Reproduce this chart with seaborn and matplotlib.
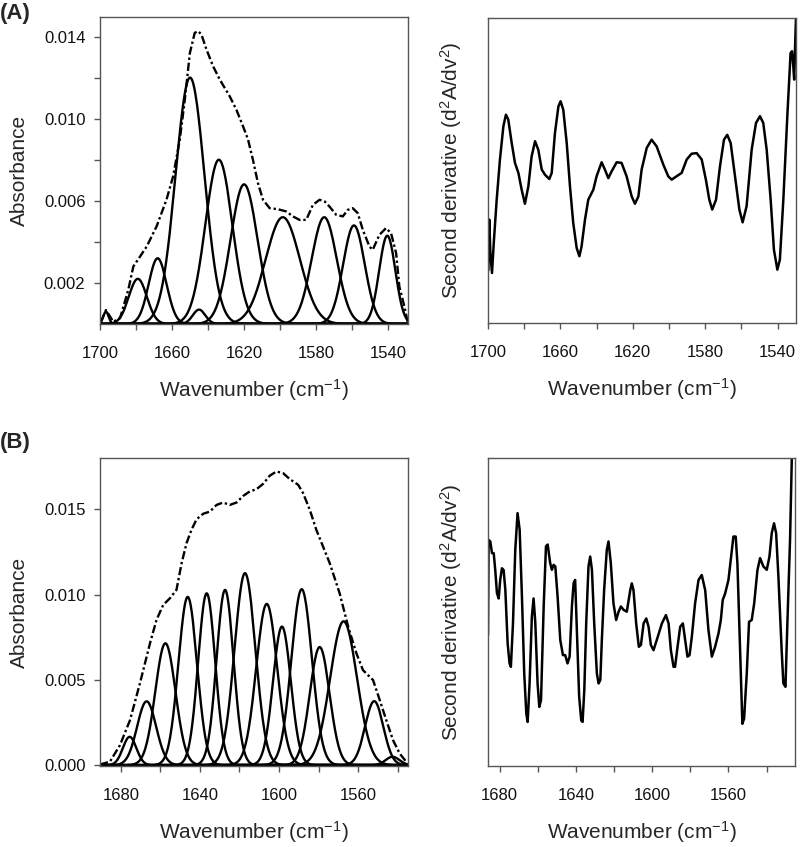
import numpy as np
import pandas as pd
import matplotlib
matplotlib.use('Agg')
import matplotlib.pyplot as plt
import seaborn as sns

# ---- panel A: fitted bands (centre cm-1, height, sigma cm-1) ----
a_centre = [1696.7, 1679.0, 1668.0, 1650.0, 1645.0, 1634.0, 1620.0, 1598.5, 1575.5, 1559.0, 1540.5]
a_height = [0.0006, 0.0022, 0.0032, 0.0120, 0.0007, 0.0080, 0.0068, 0.0052, 0.0052, 0.0048, 0.0043]
a_sigma = [1.5, 5.0, 5.0, 8.0, 3.5, 7.5, 7.5, 9.5, 7.0, 6.0, 4.5]

# panel A measured spectrum (dash-dot)
a_env_wn = [1699.4, 1696.7, 1692.6, 1688.9, 1684.3, 1681.5, 1677.8, 1674.1, 1668.6, 1663.1,
            1659.4, 1655.7, 1652.9, 1650.1, 1647.4, 1645.5, 1643.7, 1640.9, 1637.2, 1633.5,
            1628.0, 1624.3, 1620.6, 1617.8, 1615.1, 1612.3, 1609.5, 1605.8, 1601.2, 1596.6,
            1592.9, 1589.2, 1585.5, 1581.8, 1578.1, 1575.3, 1572.6, 1568.9, 1565.2, 1562.4,
            1559.7, 1556.9, 1554.1, 1550.4, 1548.6, 1544.9, 1541.2, 1538.4, 1535.6, 1533.8,
            1531.0, 1529.2]
a_env_abs = [0.00011, 0.00068, 0.00011, 0.00028, 0.00166, 0.0028, 0.00328, 0.00377, 0.00475, 0.00605,
             0.00719, 0.00898, 0.01093, 0.0132, 0.01418, 0.01426, 0.0141, 0.01337, 0.01255, 0.0119,
             0.01109, 0.01044, 0.00963, 0.00898, 0.0080, 0.00686, 0.00605, 0.00564, 0.00559, 0.00548,
             0.00524, 0.00507, 0.00507, 0.0058, 0.00605, 0.00597, 0.00572, 0.00532, 0.00524, 0.00556,
             0.00564, 0.0054, 0.00459, 0.00377, 0.00361, 0.00434, 0.00467, 0.00442, 0.00345, 0.00182,
             0.00085, 0.00011]

# panel A second derivative (arbitrary units)
a_d2_wn = [1699.8, 1699.3, 1698.7, 1697.8, 1696.7, 1695.2, 1693.4, 1691.5, 1690.1, 1688.8,
           1686.9, 1685.1, 1683.2, 1681.4, 1679.6, 1677.7, 1675.9, 1674.0, 1672.2, 1670.3,
           1668.5, 1666.1, 1664.8, 1663.0, 1661.1, 1659.9, 1658.4, 1656.5, 1654.7, 1652.9,
           1651.0, 1649.5, 1648.3, 1646.4, 1644.6, 1641.8, 1640.0, 1637.2, 1635.4, 1633.5,
           1631.7, 1628.9, 1626.2, 1623.4, 1620.6, 1618.8, 1616.9, 1615.1, 1612.3, 1609.6,
           1606.8, 1603.1, 1600.4, 1598.5, 1595.8, 1593.0, 1590.2, 1587.5, 1584.7, 1581.9,
           1579.6, 1577.7, 1576.1, 1574.0, 1571.8, 1569.6, 1567.8, 1565.9, 1563.5, 1561.1,
           1559.3, 1557.1, 1554.3, 1551.9, 1549.7, 1547.9, 1546.0, 1543.8, 1542.0, 1540.1,
           1538.7, 1536.8, 1534.6, 1532.8, 1532.0, 1531.3, 1530.8, 1530.2, 1529.8]
a_d2_val = [1.73, 3.39, 2.30, 1.64, 2.73, 4.04, 5.36, 6.45, 6.83, 6.67,
            5.90, 5.25, 4.92, 4.37, 3.91, 4.48, 5.46, 5.96, 5.68, 5.03,
            4.86, 4.72, 4.92, 6.23, 7.10, 7.27, 6.99, 5.90, 4.48, 3.28,
            2.46, 2.19, 2.51, 3.39, 4.04, 4.37, 4.81, 5.27, 5.03, 4.75,
            4.97, 5.27, 5.25, 4.81, 4.15, 3.91, 4.15, 5.03, 5.74, 6.01,
            5.79, 5.19, 4.81, 4.70, 4.81, 4.92, 5.36, 5.55, 5.57, 5.36,
            4.70, 4.04, 3.72, 4.04, 5.14, 6.01, 6.17, 5.90, 4.81, 3.72,
            3.30, 3.83, 5.68, 6.56, 6.78, 6.56, 5.68, 4.04, 2.40, 1.75,
            2.08, 4.04, 6.78, 8.85, 8.91, 8.42, 7.98, 9.29, 10.0]

# ---- panel B: fitted bands ----
b_centre = [1675.6, 1667.0, 1657.5, 1646.2, 1636.6, 1627.3, 1617.2, 1606.2, 1598.5, 1588.5,
            1579.4, 1567.3, 1551.8, 1542.5]
b_height = [0.00166, 0.00374, 0.00714, 0.00986, 0.01007, 0.01027, 0.01125, 0.00945, 0.00812, 0.01031,
            0.00692, 0.00843, 0.00375, 0.00049]
b_sigma = [3.4, 4.8, 5.1, 4.7, 4.3, 4.3, 5.3, 5.3, 4.5, 5.2, 5.0, 6.8, 4.6, 3.5]

b_env_wn = [1690.6, 1685.6, 1680.5, 1675.4, 1670.4, 1665.3, 1662.0, 1658.6, 1655.2, 1651.9,
            1649.3, 1646.8, 1644.3, 1641.7, 1638.4, 1635.0, 1631.6, 1628.3, 1624.9, 1621.5,
            1618.1, 1614.8, 1611.4, 1608.0, 1604.7, 1601.3, 1597.9, 1594.5, 1590.3, 1587.8,
            1584.4, 1581.1, 1577.7, 1574.3, 1569.3, 1565.0, 1560.8, 1557.5, 1555.0, 1552.4,
            1549.0, 1545.7, 1542.3, 1538.9, 1535.6]
b_env_abs = [0.00004, 0.0002, 0.00117, 0.00264, 0.00479, 0.00714, 0.00851, 0.00939, 0.00978, 0.01027,
             0.01183, 0.01301, 0.01379, 0.01441, 0.01473, 0.01486, 0.01525, 0.01539, 0.01525, 0.01539,
             0.01578, 0.01604, 0.01617, 0.01649, 0.01696, 0.01721, 0.01711, 0.01676, 0.01643, 0.01594,
             0.01496, 0.01379, 0.01281, 0.01183, 0.01007, 0.00812, 0.00655, 0.00557, 0.00528, 0.00499,
             0.00381, 0.00264, 0.00147, 0.00068, 0.0002]

b_d2_wn = [1686.1, 1685.8, 1684.9, 1684.0, 1683.1, 1682.3, 1681.4, 1680.5, 1679.7, 1678.8,
           1677.9, 1677.0, 1675.8, 1674.8, 1674.1, 1673.0, 1671.8, 1670.6, 1669.5, 1668.3,
           1667.1, 1666.0, 1665.3, 1664.3, 1663.1, 1662.2, 1661.3, 1660.1, 1659.2, 1658.3,
           1656.9, 1655.7, 1654.8, 1653.5, 1652.6, 1651.7, 1650.8, 1649.6, 1648.2, 1646.8,
           1645.6, 1644.4, 1643.3, 1642.1, 1641.2, 1640.4, 1639.5, 1638.3, 1637.2, 1636.5,
           1635.6, 1634.6, 1633.4, 1632.5, 1631.6, 1630.4, 1629.0, 1628.1, 1627.2, 1626.4,
           1625.2, 1623.8, 1622.9, 1621.7, 1620.3, 1618.9, 1617.6, 1616.4, 1615.0, 1613.3,
           1611.5, 1610.7, 1609.8, 1608.4, 1607.0, 1605.9, 1604.5, 1603.1, 1601.9, 1600.7,
           1599.3, 1597.6, 1594.9, 1592.8, 1591.4, 1590.2, 1588.8, 1588.0, 1586.7, 1585.3,
           1583.9, 1582.7, 1581.5, 1580.4, 1579.2, 1577.5, 1575.7, 1574.0, 1572.2, 1570.5,
           1568.7, 1567.0, 1565.2, 1564.0, 1563.0, 1561.7, 1560.0, 1558.6, 1557.4, 1556.2,
           1555.3, 1553.9, 1552.7, 1551.8, 1550.4, 1549.2, 1547.8, 1546.5, 1544.8, 1543.4,
           1541.7, 1539.9, 1538.5, 1537.3, 1536.1, 1535.0, 1533.8, 1532.1, 1531.2, 1530.1,
           1529.1, 1527.7, 1526.6]
b_d2_val = [4.25, 7.34, 7.29, 6.91, 6.91, 6.36, 5.61, 5.44, 6.04, 6.42,
            6.36, 5.71, 3.98, 3.33, 3.22, 4.63, 7.02, 8.21, 7.67, 5.50,
            3.00, 1.70, 1.43, 2.68, 4.85, 5.44, 4.66, 2.68, 1.92, 2.14,
            5.18, 7.13, 7.19, 6.59, 6.37, 6.53, 6.48, 5.50, 4.09, 3.60,
            3.60, 3.33, 3.55, 5.18, 5.94, 6.04, 4.42, 2.25, 1.48, 1.43,
            2.46, 4.63, 6.48, 6.80, 6.37, 4.63, 3.00, 2.68, 2.79, 4.09,
            5.71, 7.02, 7.29, 6.59, 5.28, 4.74, 5.01, 5.18, 5.07, 5.01,
            5.71, 5.93, 5.71, 4.63, 3.87, 3.93, 4.63, 4.79, 4.52, 3.93,
            3.76, 4.09, 4.63, 4.90, 4.63, 3.76, 3.22, 3.22, 3.87, 4.52,
            4.63, 4.09, 3.55, 3.60, 4.20, 5.28, 6.04, 6.20, 5.71, 4.42,
            3.55, 3.87, 4.31, 4.74, 5.39, 5.61, 6.04, 6.80, 7.45, 7.45,
            6.58, 3.76, 1.37, 1.54, 3.00, 4.68, 4.74, 5.28, 6.36, 6.75,
            6.48, 6.37, 6.80, 7.56, 7.88, 7.56, 6.15, 3.76, 2.68, 2.57,
            4.63, 7.34, 10.5]

# axis ticks and labels
a_xticks = [1700, 1680, 1660, 1640, 1620, 1600, 1580, 1560, 1540]
a_xlabels = ['1700', '', '1660', '', '1620', '', '1580', '', '1540']
a_yticks = [0.002, 0.004, 0.006, 0.008, 0.010, 0.012, 0.014]
a_ylabels = ['0.002', '', '0.006', '', '0.010', '', '0.014']
b_xticks = [1680, 1660, 1640, 1620, 1600, 1580, 1560, 1540]
b_xlabels = ['1680', '', '1640', '', '1600', '', '1560', '']
b_yticks = [0.000, 0.005, 0.010, 0.015]
b_ylabels = ['0.000', '0.005', '0.010', '0.015']

sns.set_theme(style='ticks')
plt.rcParams['font.family'] = ['Liberation Sans', 'DejaVu Sans']
plt.rcParams['mathtext.fontset'] = 'custom'
plt.rcParams['mathtext.rm'] = 'Liberation Sans'
plt.rcParams['mathtext.it'] = 'Liberation Sans'
plt.rcParams['mathtext.default'] = 'regular'
plt.rcParams['lines.solid_joinstyle'] = 'round'
plt.rcParams['lines.solid_capstyle'] = 'round'

GREY = '#555555'
XLAB = 'Wavenumber (cm$^{-1}$)'
D2LAB = 'Second derivative (d$^{2}$A/dv$^{2}$)'


def band_frame(centre, height, sigma, lo, hi):
    wn = np.linspace(lo, hi, 800)
    parts = []
    for i, (c, h, s) in enumerate(zip(centre, height, sigma)):
        parts.append(pd.DataFrame({'wn': wn, 'A': h * np.exp(-0.5 * ((wn - c) / s) ** 2), 'band': i}))
    return pd.concat(parts, ignore_index=True)


def style_ax(ax):
    for sp in ax.spines.values():
        sp.set_visible(True)
        sp.set_color(GREY)
        sp.set_linewidth(1.0)
    ax.tick_params(axis='both', direction='out', length=4.5, width=1.0, color=GREY,
                   labelsize=12, labelcolor='#111111')
    ax.tick_params(axis='x', pad=11)
    ax.tick_params(axis='y', pad=6)


fig = plt.figure(figsize=(8, 8.47), dpi=100)
W, H = 800.0, 847.0
ax_a = fig.add_axes([100 / W, 1 - 324 / H, 308 / W, 307 / H])
ax_ad = fig.add_axes([488 / W, 1 - 323 / H, 308 / W, 305 / H])
ax_b = fig.add_axes([100 / W, 1 - 766 / H, 308 / W, 308 / H])
ax_bd = fig.add_axes([488 / W, 1 - 766 / H, 307 / W, 308 / H])

dashdot = (0, (3.5, 1.2, 1.0, 1.2))

# panel A absorbance
df_a = band_frame(a_centre, a_height, a_sigma, 1700, 1529)
sns.lineplot(data=df_a, x='wn', y='A', units='band', estimator=None, color='black',
             lw=1.7, legend=False, ax=ax_a)
sns.lineplot(x=a_env_wn, y=a_env_abs, sort=False, estimator=None, color='black',
             lw=1.7, linestyle=dashdot, ax=ax_a)
ax_a.set_xlim(1700, 1529)
ax_a.set_ylim(0, 0.01495)
ax_a.set_xticks(a_xticks)
ax_a.set_xticklabels(a_xlabels)
ax_a.set_yticks(a_yticks)
ax_a.set_yticklabels(a_ylabels)

# panel A second derivative
sns.lineplot(x=a_d2_wn, y=a_d2_val, sort=False, estimator=None, color='black', lw=1.8, ax=ax_ad)
ax_ad.set_xlim(1700, 1529.8)
ax_ad.set_ylim(0, 10)
ax_ad.set_xticks(a_xticks)
ax_ad.set_xticklabels(a_xlabels)
ax_ad.set_yticks([])

# panel B absorbance
df_b = band_frame(b_centre, b_height, b_sigma, 1690.6, 1534.7)
sns.lineplot(data=df_b, x='wn', y='A', units='band', estimator=None, color='black',
             lw=1.7, legend=False, ax=ax_b)
sns.lineplot(x=b_env_wn, y=b_env_abs, sort=False, estimator=None, color='black',
             lw=1.7, linestyle=dashdot, ax=ax_b)
ax_b.set_xlim(1690.6, 1534.7)
ax_b.set_ylim(-0.00005, 0.018)
ax_b.set_xticks(b_xticks)
ax_b.set_xticklabels(b_xlabels)
ax_b.set_yticks(b_yticks)
ax_b.set_yticklabels(b_ylabels)

# panel B second derivative
sns.lineplot(x=b_d2_wn, y=b_d2_val, sort=False, estimator=None, color='black', lw=1.8, ax=ax_bd)
ax_bd.set_xlim(1686.1, 1525.1)
ax_bd.set_ylim(0, 10)
ax_bd.set_xticks(b_xticks)
ax_bd.set_xticklabels(b_xlabels)
ax_bd.set_yticks([])

for ax in (ax_a, ax_ad, ax_b, ax_bd):
    style_ax(ax)
    ax.set_xlabel(XLAB, fontsize=15, labelpad=12)

ax_a.set_ylabel('Absorbance', fontsize=15, labelpad=11)
ax_b.set_ylabel('Absorbance', fontsize=15, labelpad=11)
ax_ad.set_ylabel(D2LAB, fontsize=15, labelpad=17)
ax_bd.set_ylabel(D2LAB, fontsize=15, labelpad=17)

fig.text(0.0, 1 - 3 / H, '(A)', fontsize=16, fontweight='bold', ha='left', va='top')
fig.text(0.0, 1 - 432 / H, '(B)', fontsize=16, fontweight='bold', ha='left', va='top')

fig.savefig('out.png', dpi=100, facecolor='white')
